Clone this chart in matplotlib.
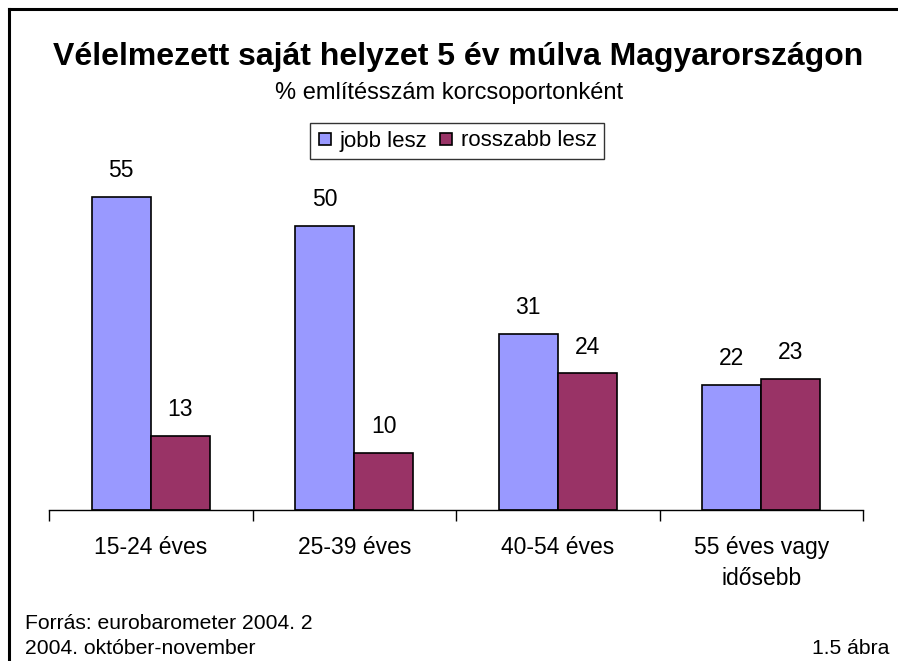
import numpy as np
import matplotlib
matplotlib.use('Agg')
import matplotlib.pyplot as plt
from matplotlib.lines import Line2D

plt.rcParams['font.family'] = ['Liberation Sans', 'DejaVu Sans']

groups = ['15-24 éves', '25-39 éves', '40-54 éves', '55 éves vagy\nidősebb']
jobb = [55, 50, 31, 22]
rosszabb = [13, 10, 24, 23]
series_names = ['jobb lesz', 'rosszabb lesz']
c_blue = '#9999FF'
c_red = '#993366'

W, H = 898, 661
fig = plt.figure(figsize=(W / 100, H / 100), dpi=100)

# axes placed in pixel coordinates of the reference
x0, x1 = 49, 863
y_base = 510
px_per_unit = 5.69
ymax = 60
y_top = y_base - ymax * px_per_unit
ax = fig.add_axes([x0 / W, (H - y_base) / H, (x1 - x0) / W, (y_base - y_top) / H])

x = np.arange(len(groups))
bw = 0.29
b1 = ax.bar(x - bw / 2, jobb, bw, color=c_blue, edgecolor='black', linewidth=1.2)
b2 = ax.bar(x + bw / 2, rosszabb, bw, color=c_red, edgecolor='black', linewidth=1.2)

for bars, vals in ((b1, jobb), (b2, rosszabb)):
    for b, v in zip(bars, vals):
        ax.text(b.get_x() + b.get_width() / 2, v + 4.6, str(v), ha='center',
                va='center', fontsize=16.5)

ax.set_xlim(-0.5, len(groups) - 0.5)
ax.set_ylim(0, ymax)
for key, spine in ax.spines.items():
    spine.set_visible(False)
ax.spines['bottom'].set_visible(True)
ax.spines['bottom'].set_linewidth(1.0)
ax.set_yticks([])
ax.set_xticks(np.arange(len(groups) + 1) - 0.5)
ax.set_xticklabels([])
ax.tick_params(axis='x', length=8, width=1.0, direction='out')
ax.set_xticks(x, minor=True)
ax.set_xticklabels(groups, minor=True, fontsize=16.5, linespacing=1.45, va='top')
ax.tick_params(axis='x', which='minor', length=0, pad=18.5)

# title and subtitle
fig.text(458 / W, 1 - 57 / H, 'Vélelmezett saját helyzet 5 év múlva Magyarországon',
         ha='center', va='center', fontsize=23, fontweight='bold')
fig.text(449 / W, 1 - 93 / H, '% említésszám korcsoportonként',
         ha='center', va='center', fontsize=17)

# legend
handles = [Line2D([], [], marker='s', linestyle='none', markersize=9,
                  markerfacecolor=c, markeredgecolor='black', markeredgewidth=1.2)
           for c in (c_blue, c_red)]
leg = fig.legend(handles, series_names, loc='center', bbox_to_anchor=(457 / W, 1 - 141 / H),
                 ncol=2, fontsize=16, frameon=True, fancybox=False, edgecolor='black',
                 handlelength=0.7, handletextpad=0.3, columnspacing=0.5,
                 borderpad=0.35, borderaxespad=0)
leg.get_frame().set_linewidth(1.0)

# footer
fig.text(25 / W, 1 - 629 / H, 'Forrás: eurobarometer 2004. 2', ha='left', va='baseline', fontsize=15.2)
fig.text(25 / W, 1 - 654 / H, '2004. október-november', ha='left', va='baseline', fontsize=15.2)
fig.text(889 / W, 1 - 654 / H, '1.5 ábra', ha='right', va='baseline', fontsize=15.2)

# outer frame, only left and top visible
fig.add_artist(Line2D([9 / W, 9 / W], [0, 1 - 9 / H], color='black', linewidth=2.2))
fig.add_artist(Line2D([9 / W, 1], [1 - 9 / H, 1 - 9 / H], color='black', linewidth=2.2))

fig.savefig('out.png', dpi=100, facecolor='white')
